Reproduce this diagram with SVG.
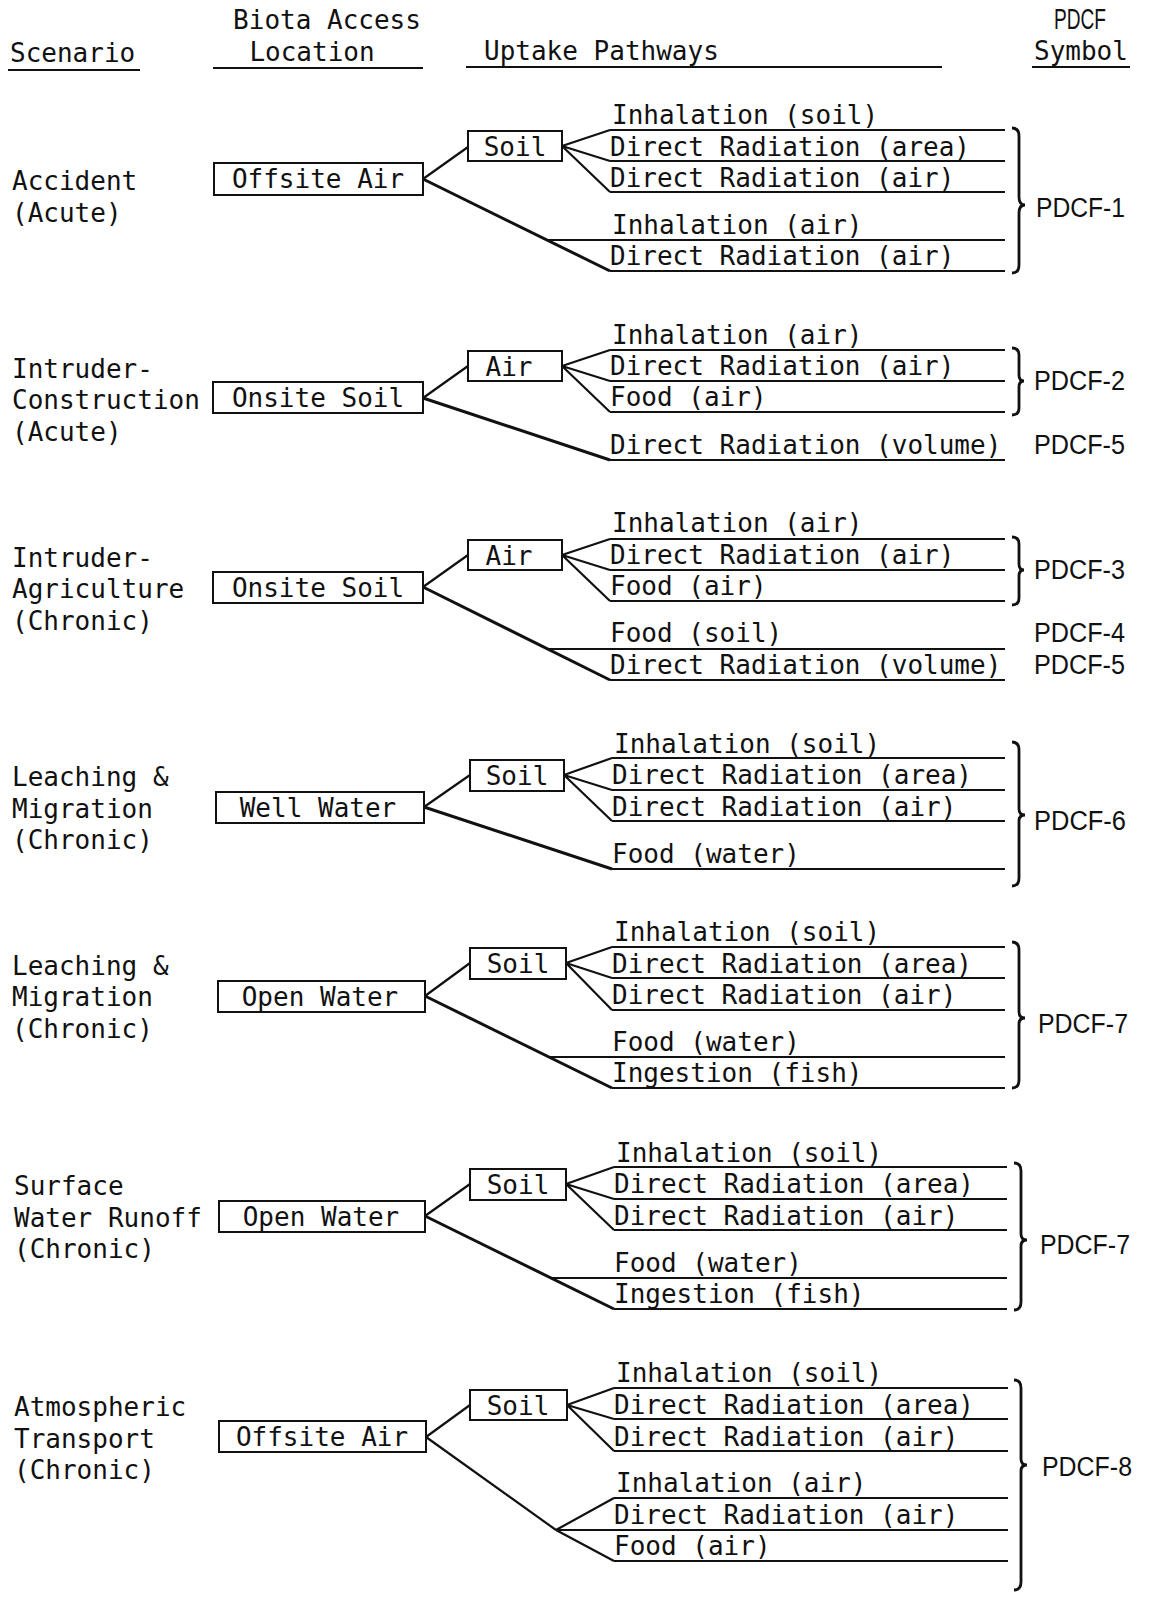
<svg xmlns="http://www.w3.org/2000/svg" width="1166" height="1604" viewBox="0 0 1166 1604">
<style>
.t{font-family:"DejaVu Sans Mono","Liberation Mono",monospace;font-size:26px;fill:#111}
.m{text-anchor:middle}
.p{font-family:"Liberation Sans","DejaVu Sans",sans-serif;font-size:27px;fill:#111}
.b{fill:#fff;stroke:#111;stroke-width:2}
.l{stroke:#111;stroke-width:2.2;fill:none}
.d{stroke:#111;stroke-width:3;fill:none}
.br{stroke:#111;stroke-width:2.8;fill:none}
</style>
<rect width="1166" height="1604" fill="#fff"/>
<g id="header">
<text class="t" x="10" y="62">Scenario</text>
<text class="t m" x="327" y="29">Biota Access</text>
<text class="t m" x="312" y="61">Location</text>
<text class="t" x="484" y="60">Uptake Pathways</text>
<text class="p m" x="1080" y="29" style="font-size:29px" textLength="52" lengthAdjust="spacingAndGlyphs">PDCF</text>
<text class="t" x="1034" y="60">Symbol</text>
<path class="l" d="M8,70 H140 M213,68 H423 M466,67 H942 M1032,67 H1130"/>
</g>
<g id="connectors">
<path class="l" d="M423,179 L468,147 M562,146 L610,130 M562,146 L610,161 M562,146 L610,192 M610,130 H1005 M610,161 H1005 M610,192 H1005 M548,240 H1005 M610,271 H1005"/>
<path class="d" d="M423,179 L610,271"/>
<path class="l" d="M423,398 L468,366 M562,366 L610,350 M562,366 L610,381 M562,366 L610,412 M610,350 H1005 M610,381 H1005 M610,412 H1005 M610,460 H1005"/>
<path class="d" d="M423,398 L610,460"/>
<path class="l" d="M423,587 L468,555 M562,555 L610,539 M562,555 L610,570 M562,555 L610,601 M610,539 H1005 M610,570 H1005 M610,601 H1005 M548,649 H1005 M610,680 H1005"/>
<path class="d" d="M423,587 L610,680"/>
<path class="l" d="M424,807 L470,775 M564,775 L612,758 M564,775 L612,790 M564,775 L612,821 M612,758 H1005 M612,790 H1005 M612,821 H1005 M612,869 H1005"/>
<path class="d" d="M424,807 L612,869"/>
<path class="l" d="M425,996 L470,963 M566,963 L612,947 M566,963 L612,978 M566,963 L612,1010 M612,947 H1005 M612,978 H1005 M612,1010 H1005 M549,1057 H1005 M612,1088 H1005"/>
<path class="d" d="M425,996 L612,1088"/>
<path class="l" d="M425,1216 L470,1184 M566,1184 L614,1167 M566,1184 L614,1199 M566,1184 L614,1230 M614,1167 H1007 M614,1199 H1007 M614,1230 H1007 M551,1278 H1007 M614,1309 H1007"/>
<path class="d" d="M425,1216 L614,1309"/>
<path class="l" d="M426,1437 L470,1405 M567,1405 L614,1388 M567,1405 L614,1419 M567,1405 L614,1451 M614,1388 H1008 M614,1419 H1008 M614,1451 H1008 M614,1498 H1008 M556,1530 H1008 M614,1561 H1008 M556,1530 L614,1498 M556,1530 L614,1561"/>
<path class="l" d="M426,1437 L556,1530"/>
<path class="br" d="M1012,128 Q1019,128 1019,136 V197 Q1019,205 1025,205 Q1019,205 1019,213 V265 Q1019,273 1012,273"/>
<path class="br" d="M1012,348 Q1019,348 1019,355 V375 Q1019,381 1024,381 Q1019,381 1019,387 V408 Q1019,415 1012,415"/>
<path class="br" d="M1012,537 Q1019,537 1019,544 V564 Q1019,570 1024,570 Q1019,570 1019,576 V598 Q1019,605 1012,605"/>
<path class="br" d="M1012,742 Q1019,742 1019,750 V809 Q1019,815 1025,815 Q1019,815 1019,821 V878 Q1019,886 1012,886"/>
<path class="br" d="M1012,942 Q1019,942 1019,950 V1012 Q1019,1018 1025,1018 Q1019,1018 1019,1024 V1080 Q1019,1088 1012,1088"/>
<path class="br" d="M1014,1163 Q1021,1163 1021,1171 V1234 Q1021,1240 1027,1240 Q1021,1240 1021,1246 V1302 Q1021,1310 1014,1310"/>
<path class="br" d="M1014,1380 Q1021,1380 1021,1388 V1459 Q1021,1465 1027,1465 Q1021,1465 1021,1471 V1582 Q1021,1590 1014,1590"/>
</g>
<g id="s1">
<text class="t" x="12" y="190">Accident</text>
<text class="t" x="12" y="222">(Acute)</text>
<g id="s1-loc"><rect class="b" x="214" y="163" width="209" height="32"/><text class="t m" x="318" y="188">Offsite Air</text></g>
<g id="s1-med"><rect class="b" x="468" y="131" width="94" height="30"/><text class="t m" x="515" y="156">Soil</text></g>
<text class="t" x="612" y="124">Inhalation (soil)</text>
<text class="t" x="610" y="156">Direct Radiation (area)</text>
<text class="t" x="610" y="187">Direct Radiation (air)</text>
<text class="t" x="612" y="234">Inhalation (air)</text>
<text class="t" x="610" y="265">Direct Radiation (air)</text>
<text class="p" x="1036" y="217" textLength="89" lengthAdjust="spacingAndGlyphs">PDCF-1</text>
</g>
<g id="s2">
<text class="t" x="12" y="378">Intruder-</text>
<text class="t" x="12" y="409">Construction</text>
<text class="t" x="12" y="441">(Acute)</text>
<g id="s2-loc"><rect class="b" x="213" y="382" width="210" height="31"/><text class="t m" x="318" y="407">Onsite Soil</text></g>
<g id="s2-med"><rect class="b" x="468" y="351" width="94" height="30"/><text class="t m" x="509" y="376">Air</text></g>
<text class="t" x="612" y="344">Inhalation (air)</text>
<text class="t" x="610" y="375">Direct Radiation (air)</text>
<text class="t" x="610" y="406">Food (air)</text>
<text class="t" x="610" y="454">Direct Radiation (volume)</text>
<text class="p" x="1034" y="390" textLength="91" lengthAdjust="spacingAndGlyphs">PDCF-2</text>
<text class="p" x="1034" y="454" textLength="91" lengthAdjust="spacingAndGlyphs">PDCF-5</text>
</g>
<g id="s3">
<text class="t" x="12" y="567">Intruder-</text>
<text class="t" x="12" y="598">Agriculture</text>
<text class="t" x="12" y="630">(Chronic)</text>
<g id="s3-loc"><rect class="b" x="213" y="572" width="210" height="31"/><text class="t m" x="318" y="597">Onsite Soil</text></g>
<g id="s3-med"><rect class="b" x="468" y="540" width="94" height="30"/><text class="t m" x="509" y="565">Air</text></g>
<text class="t" x="612" y="532">Inhalation (air)</text>
<text class="t" x="610" y="564">Direct Radiation (air)</text>
<text class="t" x="610" y="595">Food (air)</text>
<text class="t" x="610" y="642">Food (soil)</text>
<text class="t" x="610" y="674">Direct Radiation (volume)</text>
<text class="p" x="1034" y="579" textLength="91" lengthAdjust="spacingAndGlyphs">PDCF-3</text>
<text class="p" x="1034" y="642" textLength="91" lengthAdjust="spacingAndGlyphs">PDCF-4</text>
<text class="p" x="1034" y="674" textLength="91" lengthAdjust="spacingAndGlyphs">PDCF-5</text>
</g>
<g id="s4">
<text class="t" x="12" y="786">Leaching &amp;</text>
<text class="t" x="12" y="818">Migration</text>
<text class="t" x="12" y="849">(Chronic)</text>
<g id="s4-loc"><rect class="b" x="216" y="792" width="208" height="31"/><text class="t m" x="318" y="817">Well Water</text></g>
<g id="s4-med"><rect class="b" x="470" y="760" width="94" height="31"/><text class="t m" x="517" y="785">Soil</text></g>
<text class="t" x="614" y="753">Inhalation (soil)</text>
<text class="t" x="612" y="784">Direct Radiation (area)</text>
<text class="t" x="612" y="816">Direct Radiation (air)</text>
<text class="t" x="612" y="863">Food (water)</text>
<text class="p" x="1034" y="830" textLength="92" lengthAdjust="spacingAndGlyphs">PDCF-6</text>
</g>
<g id="s5">
<text class="t" x="12" y="975">Leaching &amp;</text>
<text class="t" x="12" y="1006">Migration</text>
<text class="t" x="12" y="1038">(Chronic)</text>
<g id="s5-loc"><rect class="b" x="218" y="981" width="207" height="31"/><text class="t m" x="320" y="1006">Open Water</text></g>
<g id="s5-med"><rect class="b" x="470" y="948" width="96" height="31"/><text class="t m" x="518" y="973">Soil</text></g>
<text class="t" x="614" y="941">Inhalation (soil)</text>
<text class="t" x="612" y="973">Direct Radiation (area)</text>
<text class="t" x="612" y="1004">Direct Radiation (air)</text>
<text class="t" x="612" y="1051">Food (water)</text>
<text class="t" x="612" y="1082">Ingestion (fish)</text>
<text class="p" x="1038" y="1033" textLength="90" lengthAdjust="spacingAndGlyphs">PDCF-7</text>
</g>
<g id="s6">
<text class="t" x="14" y="1195">Surface</text>
<text class="t" x="14" y="1227">Water Runoff</text>
<text class="t" x="14" y="1258">(Chronic)</text>
<g id="s6-loc"><rect class="b" x="219" y="1201" width="206" height="31"/><text class="t m" x="321" y="1226">Open Water</text></g>
<g id="s6-med"><rect class="b" x="470" y="1169" width="96" height="31"/><text class="t m" x="518" y="1194">Soil</text></g>
<text class="t" x="616" y="1162">Inhalation (soil)</text>
<text class="t" x="614" y="1193">Direct Radiation (area)</text>
<text class="t" x="614" y="1225">Direct Radiation (air)</text>
<text class="t" x="614" y="1272">Food (water)</text>
<text class="t" x="614" y="1303">Ingestion (fish)</text>
<text class="p" x="1040" y="1254" textLength="90" lengthAdjust="spacingAndGlyphs">PDCF-7</text>
</g>
<g id="s7">
<text class="t" x="14" y="1416">Atmospheric</text>
<text class="t" x="14" y="1448">Transport</text>
<text class="t" x="14" y="1479">(Chronic)</text>
<g id="s7-loc"><rect class="b" x="219" y="1421" width="207" height="31"/><text class="t m" x="322" y="1446">Offsite Air</text></g>
<g id="s7-med"><rect class="b" x="470" y="1390" width="97" height="30"/><text class="t m" x="518" y="1415">Soil</text></g>
<text class="t" x="616" y="1382">Inhalation (soil)</text>
<text class="t" x="614" y="1414">Direct Radiation (area)</text>
<text class="t" x="614" y="1446">Direct Radiation (air)</text>
<text class="t" x="616" y="1492">Inhalation (air)</text>
<text class="t" x="614" y="1524">Direct Radiation (air)</text>
<text class="t" x="614" y="1555">Food (air)</text>
<text class="p" x="1042" y="1476" textLength="90" lengthAdjust="spacingAndGlyphs">PDCF-8</text>
</g>
</svg>
